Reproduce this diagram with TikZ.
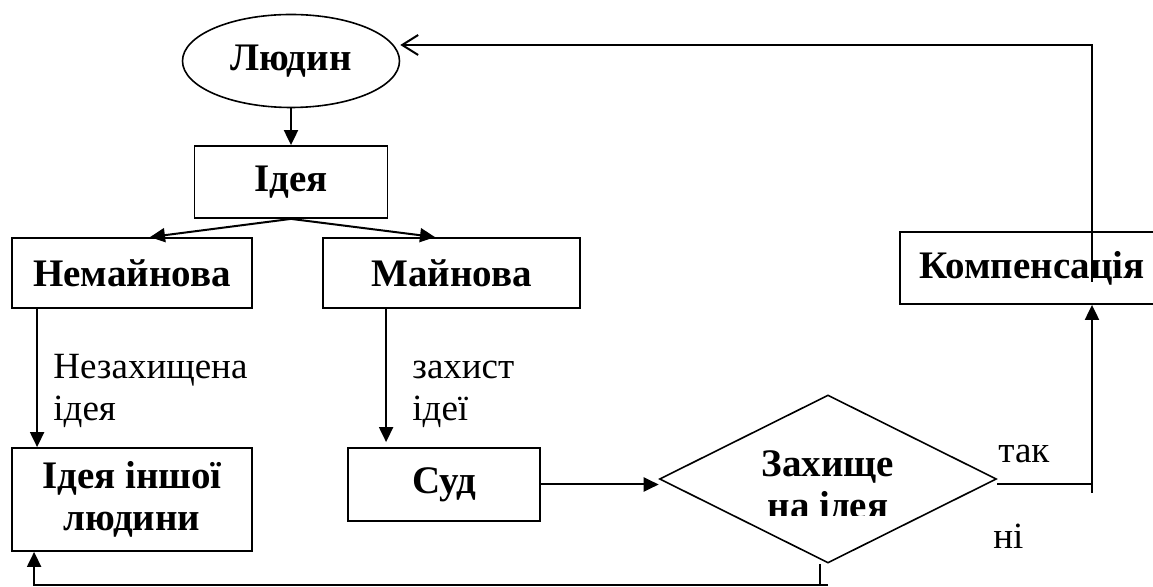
\documentclass[tikz,border=0pt]{standalone}
\usepackage{fontspec}
\setmainfont{Liberation Serif}
\usetikzlibrary{arrows.meta,positioning,calc,shapes.geometric}

\begin{document}
\begin{tikzpicture}[
  x=0.5pt, y=-0.5pt,
  font=\fontsize{19.5pt}{21pt}\selectfont\bfseries,
  box/.style={draw, line width=0.9pt, align=center, inner sep=0pt},
  oval/.style={ellipse, draw, line width=0.8pt, inner sep=0pt, minimum width=108.5pt, minimum height=46.5pt},
  decision/.style={diamond, draw, line width=0.8pt, inner sep=0pt, minimum width=168.5pt, minimum height=84pt},
  lbl/.style={font=\fontsize{18.5pt}{21pt}\selectfont, align=left, inner sep=0pt},
  arr/.style={-{Triangle[length=7.5pt,width=7pt]}, line width=1pt},
  backarr/.style={-{Straight Barb[length=8pt,width=10pt]}, line width=1pt},
  ln/.style={line width=1pt}
]
\useasboundingbox (0,0) rectangle (1153,587);

\node[oval] (ludyn) at (291,61) {Людин};
\node[box, minimum width=96.5pt, minimum height=36pt] (ideya) at (291,182) {Ідея};
\node[box, minimum width=120pt, minimum height=35pt] (nemain) at (132,273) {Немайнова};
\node[box, minimum width=128.5pt, minimum height=35pt] (main) at (451.5,273) {Майнова};
\node[box, minimum width=120pt, minimum height=51.5pt] (inshoi) at (132,499.5) {Ідея іншої\\людини};
\node[box, minimum width=96pt, minimum height=36.5pt] (sud) at (444,484.5) {Суд};
\node[decision] (zah) at (828,479) {};
\node[box, minimum width=132pt, minimum height=36pt] (komp) at (1032,268) {Компенсація};

% text of the decision, cut off at the bottom
\begin{scope}
  \clip (650,380) rectangle (1000,516);
  \node[anchor=north, inner sep=0pt, align=center] (zahtxt) at (828,450) {Захище\\на ідея};
\end{scope}

\node[lbl, anchor=north west] (nezax) at (53,354) {Незахищена\\ідея};
\node[lbl, anchor=north west] (zaxyst) at (412,361) {захист\\ідеї};
\node[lbl, anchor=base west] (tak) at (998,463) {так};
\node[lbl, anchor=base west] (ni) at (993,549) {ні};

\coordinate (kin) at (1092,282);
\coordinate (ty) at (1092,484);
\coordinate (tyb) at (1092,493);
\coordinate (nb) at (828,585);

\draw[arr] (ludyn) -- (ideya);
\draw[arr] (ideya.south) -- ([xshift=9pt]nemain.north);
\draw[arr] (ideya.south) -- ([xshift=-8.25pt]main.north);
\draw[arr] ([xshift=13pt]nemain.south west) -- ([xshift=13pt]inshoi.north west);
\draw[arr, shorten >=2.5pt] ([xshift=32pt]main.south west) -- ([xshift=19.5pt]sud.north west);
\draw[arr] (sud.east) -- (sud.east -| zah.west);
\draw[ln] ([yshift=-2.5pt]zah.east) -- (ty);
\draw[arr] (tyb) -- (komp.south -| tyb);
\draw[backarr] (kin) |- ([yshift=8pt]ludyn.east);
\draw[ln] ([xshift=-4pt]zah.south) -- ([xshift=-4pt]zah.south |- nb);
\draw[arr] (nb) -| ([xshift=11.5pt]inshoi.south west);
\end{tikzpicture}
\end{document}
